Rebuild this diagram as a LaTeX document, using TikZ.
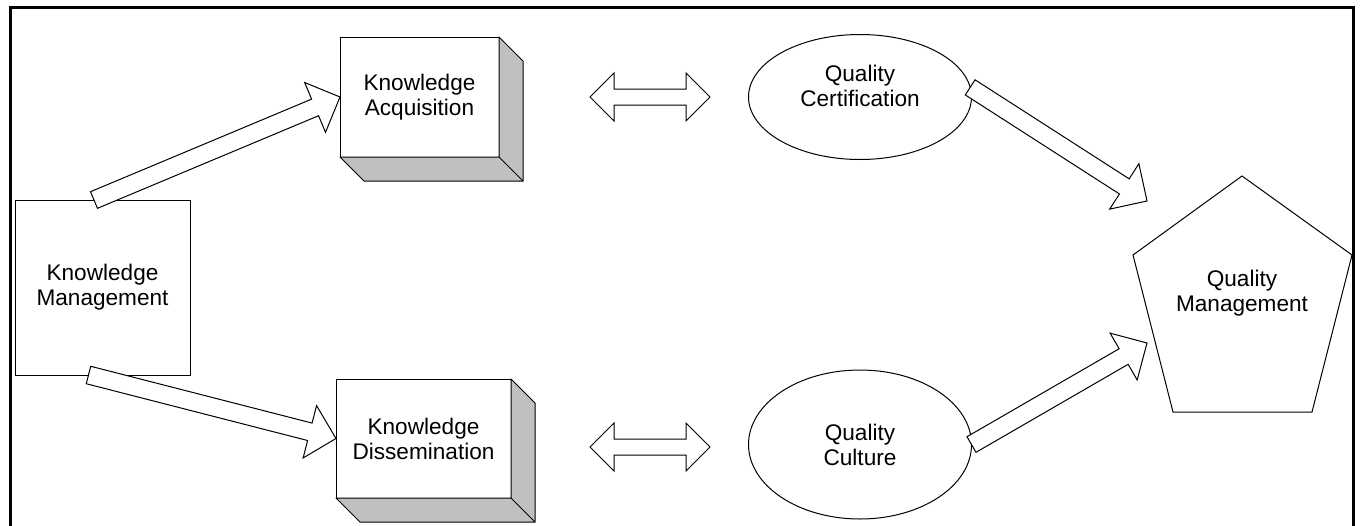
\documentclass[tikz,border=0pt]{standalone}
\usepackage{fontspec}
\setmainfont{Liberation Sans}
\usetikzlibrary{calc,shapes.geometric}
\definecolor{sidegray}{RGB}{192,192,192}

% hollow block arrow, tail #1, tip #2
\newcommand{\blockarrow}[2]{%
  \coordinate (hb) at ($(#2)!27pt!(#1)$);
  \filldraw[arrowline] ($(#1)!9pt!90:(#2)$) -- ($(hb)!9pt!90:(#2)$) -- ($(hb)!27pt!90:(#2)$) -- (#2)
    -- ($(hb)!27pt!-90:(#2)$) -- ($(hb)!9pt!-90:(#2)$) -- ($(#1)!9pt!-90:(#2)$) -- cycle;}
% hollow double arrow between two tips
\newcommand{\twoway}[2]{%
  \coordinate (ha) at ($(#1)!24pt!(#2)$);
  \coordinate (hz) at ($(#2)!24pt!(#1)$);
  \filldraw[arrowline] (#1) -- ($(ha)!24pt!90:(#2)$) -- ($(ha)!8pt!90:(#2)$) -- ($(hz)!8pt!-90:(#1)$)
    -- ($(hz)!24pt!-90:(#1)$) -- (#2) -- ($(hz)!24pt!90:(#1)$) -- ($(hz)!8pt!90:(#1)$)
    -- ($(ha)!8pt!-90:(#2)$) -- ($(ha)!24pt!-90:(#2)$) -- cycle;}
% grey side and bottom of a 3d box
\newcommand{\boxdepth}[1]{%
  \filldraw[fill=sidegray,line width=1pt,line join=round] (#1.north east) -- ++(24,24) -- ($(#1.south east)+(24,24)$)
    -- ($(#1.south west)+(24,24)$) -- (#1.south west) -- (#1.south east) -- cycle;
  \draw[line width=1pt] (#1.south east) -- ++(24,24);}

\begin{document}
\begin{tikzpicture}[x=1pt,y=-1pt,
    every node/.style={font=\fontsize{22.6}{25}\selectfont, align=center, inner sep=0pt, outer sep=0pt},
    plainbox/.style={draw, line width=1pt},
    frontbox/.style={draw, fill=white, line width=1pt},
    qellipse/.style={draw, ellipse, line width=1pt, minimum width=223pt},
    arrowline/.style={fill=white, draw=black, line width=1pt, line join=miter}]
\useasboundingbox (0,0) rectangle (1362,525);
\draw[line width=3pt] (10,540) -- (10,7) -- (1353,7) -- (1353,540);

% knowledge side
\node[plainbox, minimum width=175pt, minimum height=175pt] (km) at (102.5,287.5) {Knowledge\\Management};
\node[frontbox, minimum width=159pt, minimum height=120pt] (ka) at (419.5,97) {Knowledge\\Acquisition};
\node[frontbox, minimum width=175pt, minimum height=119pt] (kd) at (423.5,438.5) {Knowledge\\Dissemination};
\boxdepth{ka}
\boxdepth{kd}

% quality side
\node[qellipse, minimum height=125pt] (qc) at (860,97) {};
\node (qctext) at (860,86) {Quality\\Certification};
\node[qellipse, minimum height=149pt] (qu) at (860,444.5) {Quality\\Culture};
\draw[line width=1pt] (1242,176) -- (1352,255) -- (1312,412) -- (1173,412) -- (1133,255) -- cycle;
\node (qm) at (1242,293) {Quality\\Management};

\coordinate (kmtop) at ($(km.north)+(-8.5,0)$);
\coordinate (kmbot) at ($(km.south)+(-14,0)$);
\coordinate (qmin1) at ($(qm)+(-95,-92)$);
\coordinate (qmin2) at ($(qm)+(-95,50)$);
\coordinate (twa1) at (590,97);
\coordinate (twa2) at (710,97);
\coordinate (twb1) at (590,447);
\coordinate (twb2) at (710,447);

\blockarrow{kmtop}{ka.west}
\blockarrow{kmbot}{kd.west}
\blockarrow{qc.5}{qmin1}
\blockarrow{qu.east}{qmin2}
\twoway{twa1}{twa2}
\twoway{twb1}{twb2}
\end{tikzpicture}
\end{document}
